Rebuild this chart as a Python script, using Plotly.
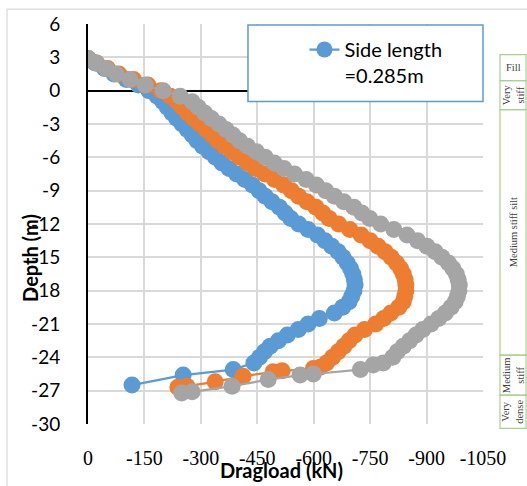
import plotly.graph_objects as go

# Depth (m) at which the dragload was evaluated along the pile
depth_main = [2.9, 2.5, 2.0, 1.5, 1.0, 0.5, 0.0, -0.5, -1.0, -1.5, -2.0, -2.5, -3.0, -3.5,
              -4.0, -4.5, -5.0, -5.5, -6.0, -6.5, -7.0, -7.5, -8.0, -8.5, -9.0, -9.5, -10.0,
              -10.5, -11.0, -11.5, -12.0, -12.5, -13.0, -13.5, -14.0, -14.5, -15.0, -15.5,
              -16.0, -16.5, -17.0, -17.5, -18.0, -18.5, -19.0, -19.5, -20.0, -20.5, -21.0,
              -21.5, -22.0, -22.5, -23.0, -23.5, -24.0, -24.5]

# Side length 0.285 m
load_a = [0, -19, -44, -69, -102, -134, -162, -184, -199, -211, -223, -236, -250, -264,
          -277, -290, -305, -322, -339, -356, -375, -395, -417, -437, -455, -471, -489,
          -509, -524, -539, -560, -585, -610, -630, -648, -665, -678, -689, -698, -704,
          -708, -710, -707, -701, -694, -677, -655, -615, -585, -559, -530, -506, -484,
          -469, -456, -441]
tail_depth_a = [-25.1, -25.6, -26.5]
tail_load_a = [-386, -253, -117]

# Second pile size
load_b = [0, -23, -52, -82, -121, -159, -193, -219, -237, -251, -265, -281, -298, -314,
          -330, -345, -363, -383, -403, -424, -446, -470, -496, -520, -541, -560, -582,
          -606, -624, -641, -666, -696, -726, -750, -771, -790, -806, -820, -831, -838,
          -843, -845, -845, -842, -838, -826, -805, -786, -765, -735, -710, -694, -680,
          -665, -650, -634]
tail_depth_b = [-24.9, -25.0, -25.2, -25.3, -25.7, -26.2, -26.6, -26.7]
tail_load_b = [-617, -599, -516, -492, -412, -338, -263, -239]

# Third pile size
load_c = [0, -22, -48, -75, -112, -152, -200, -245, -277, -293, -310, -328, -348, -367,
          -385, -403, -424, -448, -471, -495, -521, -549, -580, -607, -632, -655, -680,
          -707, -728, -749, -778, -813, -848, -876, -901, -923, -941, -958, -970, -979,
          -984, -987, -986, -982, -976, -965, -950, -932, -912, -890, -872, -855, -838,
          -822, -810, -785]
tail_depth_c = [-24.7, -25.1, -25.5, -25.6, -26.0, -26.6, -27.1, -27.2]
tail_load_c = [-758, -724, -599, -564, -479, -383, -277, -249]

x_ticks = [0, -150, -300, -450, -600, -750, -900, -1050]
y_ticks = [6, 3, 0, -3, -6, -9, -12, -15, -18, -21, -24, -27, -30]

# Soil profile beside the chart
layer_names = ["Fill", "Very<br>stiff", "Medium stiff silt", "Medium<br>stiff", "Very<br>dense"]
layer_bounds = [3.25, 0.9, -1.7, -23.8, -27.4, -30.4]
layer_angles = [0, -90, -90, -90, -90]

BLUE, ORANGE, GRAY = "#5B9BD5", "#ED7D31", "#A5A5A5"
Y_MIN, Y_MAX = min(y_ticks), max(y_ticks)


def ypaper(d):
    return (d - Y_MIN) / (Y_MAX - Y_MIN)


fig = go.Figure()
series = [
    (load_a + tail_load_a, depth_main + tail_depth_a, BLUE, "Side length<br>=0.285m", True),
    (load_b + tail_load_b, depth_main + tail_depth_b, ORANGE, "orange", False),
    (load_c + tail_load_c, depth_main + tail_depth_c, GRAY, "gray", False),
]
for xs, ys, col, name, show in series:
    fig.add_trace(go.Scatter(
        x=xs, y=ys, mode="lines+markers", name=name, showlegend=show,
        line=dict(color=col, width=2.25),
        marker=dict(color=col, size=17),
    ))

shapes = []
# legend frame
shapes.append(dict(type="rect", xref="paper", yref="paper",
                   x0=0.405, x1=1.0, y0=0.806, y1=0.9975,
                   fillcolor="white", line=dict(color=BLUE, width=1.5), layer="above"))
# outer chart border (top and left edges)
shapes.append(dict(type="line", xref="paper", yref="paper", x0=-0.205, x1=1.12,
                   y0=1.037, y1=1.037, line=dict(color="#D9D9D9", width=1.2)))
shapes.append(dict(type="line", xref="paper", yref="paper", x0=-0.205, x1=-0.205,
                   y0=1.037, y1=-0.16, line=dict(color="#D9D9D9", width=1.2)))

annotations = []
px0, px1 = 1.043, 1.109
for i, name in enumerate(layer_names):
    top, bot = layer_bounds[i], layer_bounds[i + 1]
    shapes.append(dict(type="rect", xref="paper", yref="paper",
                       x0=px0, x1=px1, y0=ypaper(bot), y1=ypaper(top),
                       line=dict(color="#A9D18E", width=1.2), fillcolor="rgba(0,0,0,0)"))
    annotations.append(dict(text=name, xref="paper", yref="paper",
                            x=(px0 + px1) / 2, y=ypaper((top + bot) / 2),
                            xanchor="center", yanchor="middle",
                            showarrow=False, textangle=layer_angles[i],
                            font=dict(family="Liberation Serif", size=10.5, color="#404040")))

annotations.append(dict(text="<b>Depth (m)</b>", xref="paper", yref="paper",
                        x=-0.147, y=0.415, xanchor="center", yanchor="middle",
                        showarrow=False, textangle=-90,
                        font=dict(family="Lato", size=20, color="#000000")))
annotations.append(dict(text="<b>Dragload (kN)</b>", xref="paper", yref="paper",
                        x=0.489, y=-0.1144, xanchor="center", yanchor="middle",
                        showarrow=False,
                        font=dict(family="Lato", size=20, color="#000000")))

fig.update_layout(
    width=527, height=486,
    margin=dict(l=88, r=44, t=22, b=62),
    paper_bgcolor="white", plot_bgcolor="white",
    font=dict(family="Lato", color="#000000"),
    shapes=shapes, annotations=annotations,
    legend=dict(x=0.548, y=0.985, xanchor="left", yanchor="top",
                bgcolor="rgba(0,0,0,0)", borderwidth=0, valign="top",
                font=dict(family="Lato", size=20, color="#000000")),
    xaxis=dict(range=[0, -1050], tickvals=x_ticks, ticktext=[str(v) for v in x_ticks],
               showgrid=True, gridcolor="#D9D9D9", gridwidth=1.5, zeroline=False,
               showline=False, ticks="", ticklabelstandoff=20,
               tickfont=dict(family="Liberation Serif", size=20, color="#000000")),
    yaxis=dict(range=[Y_MIN, Y_MAX], tickvals=y_ticks, ticktext=[str(v) for v in y_ticks],
               showgrid=True, gridcolor="#D9D9D9", gridwidth=1.5,
               zeroline=True, zerolinecolor="#000000", zerolinewidth=2,
               showline=True, linecolor="#000000", linewidth=2, ticks="",
               ticklabelstandoff=22,
               tickfont=dict(family="Lato", size=19, color="#000000")),
)

fig.write_html("out.html")
